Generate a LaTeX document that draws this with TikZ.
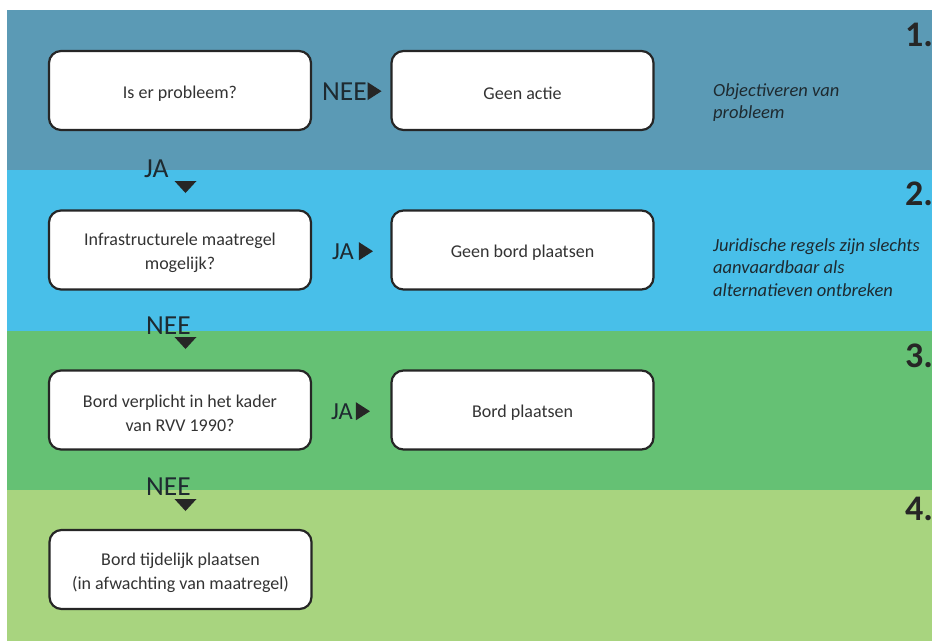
\documentclass[tikz,border=0pt]{standalone}
\usepackage{fontspec}
\setmainfont{Carlito}
\definecolor{bandA}{HTML}{5B9AB5}
\definecolor{bandB}{HTML}{48BFE9}
\definecolor{bandC}{HTML}{65C174}
\definecolor{bandD}{HTML}{A8D47F}
\definecolor{boxline}{HTML}{262626}
\definecolor{txt}{HTML}{333333}
\definecolor{lbltxt}{HTML}{1E2A30}
\begin{document}
\begin{tikzpicture}[x=1pt,y=-1pt,
  box/.style={draw=boxline, line width=2.2pt, fill=white, rounded corners=12pt,
    minimum width=262pt, minimum height=79pt, inner sep=0pt},
  boxtext/.style={align=center, font=\fontsize{18}{24}\selectfont, text=txt, inner sep=0pt},
  lbl/.style={font=\fontsize{27.5}{30}\selectfont, text=lbltxt, inner sep=0pt, anchor=base west},
  lblsmall/.style={lbl, font=\fontsize{24.5}{30}\selectfont},
  note/.style={font=\fontsize{18.5}{22.5}\selectfont\itshape, text=lbltxt, inner sep=0pt,
    align=left, anchor=north west},
  num/.style={font=\fontsize{36}{40}\selectfont\bfseries, text=boxline, inner sep=0pt, anchor=base west},
  tri/.style={fill=boxline}]
\useasboundingbox (0,0) rectangle (932,641);
\fill[white] (0,0) rectangle (932,641);
% bands
\fill[bandA] (7,10) rectangle (932,170);
\fill[bandB] (7,170) rectangle (932,330.5);
\fill[bandC] (7,330.5) rectangle (932,490);
\fill[bandD] (7,490) rectangle (932,641);
% step numbers
\node[num] (n1) at (905,46) {1.};
\node[num] (n2) at (905,205) {2.};
\node[num] (n3) at (905,367) {3.};
\node[num] (n4) at (905,520) {4.};
% notes
\node[note] (o1) at (713,83) {Objectiveren van\\probleem};
\node[note] (o2) at (713,238) {Juridische regels zijn slechts\\aanvaardbaar als\\alternatieven ontbreken};
% boxes
\node[box] (q1) at (180,90.5) {};
\node[boxtext] (q1t) at ([yshift=-3pt]q1.center) {Is er probleem?};
\node[box] (a1) at (522.5,90.5) {};
\node[boxtext] (a1t) at ([yshift=-3pt]a1.center) {Geen actie};
\node[box] (q2) at (180,250) {};
\node[boxtext] (q2t) at ([yshift=-3pt]q2.center) {Infrastructurele maatregel\\mogelijk?};
\node[box] (a2) at (522.5,250) {};
\node[boxtext] (a2t) at ([yshift=-3pt]a2.center) {Geen bord plaatsen};
\node[box] (q3) at (180,410) {};
\node[boxtext] (q3t) at ([yshift=-3pt]q3.center) {Bord verplicht in het kader\\van RVV 1990?};
\node[box] (a3) at (522.5,410) {};
\node[boxtext] (a3t) at ([yshift=-3pt]a3.center) {Bord plaatsen};
\node[box] (q4) at (180.5,569.5) {};
\node[boxtext] (q4t) at ([yshift=-3pt]q4.center) {Bord tijdelijk plaatsen\\(in afwachting van maatregel)};
% right labels with triangles
\node[lbl] (r1) at (322,100) {NEE};
\fill[tri] (r1.east) ++(0.5,-9) -- ++(14,9) -- ++(-14,9) -- cycle;
\node[lblsmall] (r2) at (332,259) {JA};
\fill[tri] (r2.east) ++(5,-9) -- ++(14,9) -- ++(-14,9) -- cycle;
\node[lblsmall] (r3) at (331,419) {JA};
\fill[tri] (r3.east) ++(3,-9) -- ++(14,9) -- ++(-14,9) -- cycle;
% down labels with triangles
\node[lbl] (d1) at (144,177) {JA};
\coordinate (t1) at (185.5,181);
\fill[tri] (t1) ++(-11,0) -- ++(22,0) -- ++(-11,12) -- cycle;
\node[lbl] (d2) at (146,334) {NEE};
\coordinate (t2) at (185.5,337);
\fill[tri] (t2) ++(-11,0) -- ++(22,0) -- ++(-11,12) -- cycle;
\node[lbl] (d3) at (146,495) {NEE};
\coordinate (t3) at (185.5,499);
\fill[tri] (t3) ++(-11,0) -- ++(22,0) -- ++(-11,12) -- cycle;
\end{tikzpicture}
\end{document}
